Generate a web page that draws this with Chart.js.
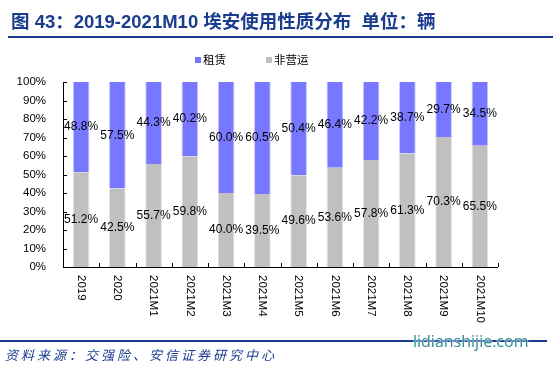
<!DOCTYPE html>
<html>
<head>
<meta charset="utf-8">
<script src="https://cdn.jsdelivr.net/npm/chart.js@4.4.0/dist/chart.umd.min.js"></script>
<style>
  body { margin: 0; width: 553px; height: 376px; background: #fff; position: relative; overflow: hidden; font-family: Arial, "Liberation Sans", sans-serif; }
  #wrap { position: absolute; left: 0; top: 0; width: 553px; height: 376px; }
  .title { position: absolute; left: 11px; top: 7px; font: bold 18.5px Arial, "Noto Sans CJK SC", sans-serif; color: #1a3c8e; white-space: nowrap; }
  .topline { position: absolute; left: 8px; right: 0; top: 36px; height: 2px; background: #1a3c8e; }
  .legend { position: absolute; top: 51px; font: 11.5px "Noto Sans CJK SC", sans-serif; color: #000; white-space: nowrap; }
  .legend span.box { display: inline-block; width: 6px; height: 6px; margin-right: 2px; vertical-align: 1px; }
  .botline { position: absolute; left: 0; right: 6px; top: 340px; height: 1.5px; background: #1a3c8e; }
  .source { position: absolute; left: 5px; top: 345px; font: italic 13px "Noto Sans CJK SC", sans-serif; letter-spacing: 3px; color: #1a3c8e; white-space: nowrap; }
  .mark { position: absolute; left: 413px; top: 330px; font: 16px "Open Sans", Arial, sans-serif; color: #2a8c9a; white-space: nowrap; text-shadow: 0 0 2px #fff, 0 0 2px #fff; }
</style>
</head>
<body>
<div id="wrap"><canvas id="chart" width="553" height="376"></canvas></div>
<div class="title">图 43：2019-2021M10 埃安使用性质分布&nbsp; 单位：辆</div>
<div class="topline"></div>
<div class="legend" style="left:195px"><span class="box" style="background:#7777ff"></span>租赁</div>
<div class="legend" style="left:266px"><span class="box" style="background:#c0c0c0"></span>非营运</div>
<div class="botline"></div>
<div class="source">资料来源：交强险、安信证券研究中心</div>
<div class="mark">lidianshijie.com</div>
<script>
const categories = ['2019', '2020', '2021M1', '2021M2', '2021M3', '2021M4', '2021M5', '2021M6', '2021M7', '2021M8', '2021M9', '2021M10'];
const nonOperating = [51.2, 42.5, 55.7, 59.8, 40.0, 39.5, 49.6, 53.6, 57.8, 61.3, 70.3, 65.5];
const rental = [48.8, 57.5, 44.3, 40.2, 60.0, 60.5, 50.4, 46.4, 42.2, 38.7, 29.7, 34.5];
const yTicks = [0, 10, 20, 30, 40, 50, 60, 70, 80, 90, 100];

// value labels in the middle of each segment
const valueLabels = {
    id: 'valueLabels',
    afterDatasetsDraw(chart) {
        const ctx = chart.ctx;
        ctx.save();
        ctx.font = '12px Arial';
        ctx.fillStyle = '#000';
        ctx.textAlign = 'center';
        ctx.textBaseline = 'middle';
        chart.data.datasets.forEach((ds, di) => {
            chart.getDatasetMeta(di).data.forEach((bar, i) => {
                const mid = (bar.y + bar.base) / 2;
                ctx.fillText(ds.data[i].toFixed(1) + '%', bar.x, mid);
            });
        });
        ctx.restore();
    }
};

// inward ticks and top-to-bottom category labels
const axisExtras = {
    id: 'axisExtras',
    afterDraw(chart) {
        const ctx = chart.ctx;
        const x = chart.scales.x, y = chart.scales.y;
        const area = chart.chartArea;
        ctx.save();
        ctx.strokeStyle = '#000';
        ctx.lineWidth = 1;
        yTicks.forEach(v => {
            const py = Math.round(y.getPixelForValue(v)) + 0.5;
            ctx.beginPath();
            ctx.moveTo(area.left, py);
            ctx.lineTo(area.left + 4, py);
            ctx.stroke();
        });
        const step = (area.right - area.left) / categories.length;
        for (let i = 1; i <= categories.length; i++) {
            const px = Math.round(area.left + step * i) + 0.5;
            ctx.beginPath();
            ctx.moveTo(px, area.bottom);
            ctx.lineTo(px, area.bottom - 4);
            ctx.stroke();
        }
        ctx.beginPath();
        ctx.moveTo(area.left, area.bottom + 0.5);
        ctx.lineTo(area.right, area.bottom + 0.5);
        ctx.stroke();
        ctx.font = '11.5px Arial';
        ctx.fillStyle = '#000';
        ctx.textAlign = 'left';
        ctx.textBaseline = 'middle';
        categories.forEach((c, i) => {
            const px = x.getPixelForValue(i);
            ctx.save();
            ctx.translate(px, area.bottom + 8);
            ctx.rotate(Math.PI / 2);
            ctx.fillText(c, 0, 0);
            ctx.restore();
        });
        ctx.restore();
    }
};

new Chart(document.getElementById('chart'), {
    type: 'bar',
    data: {
        labels: categories,
        datasets: [
            { label: '非营运', data: nonOperating, backgroundColor: '#c0c0c0', borderColor: '#e4e4e4', borderWidth: { left: 1, right: 1 }, borderSkipped: false, categoryPercentage: 1, barPercentage: 0.46 },
            { label: '租赁', data: rental, backgroundColor: '#7777ff', borderColor: '#c8c8ff', borderWidth: { left: 1, right: 1 }, borderSkipped: false, categoryPercentage: 1, barPercentage: 0.46 }
        ]
    },
    options: {
        responsive: false,
        animation: false,
        layout: { padding: { top: 82, right: 55, left: 0, bottom: 0 } },
        plugins: { legend: { display: false }, tooltip: { enabled: false } },
        scales: {
            x: {
                stacked: true,
                grid: { display: false },
                border: { display: false },
                ticks: { display: false },
                afterFit(scale) { scale.height = 109; }
            },
            y: {
                stacked: true,
                min: 0,
                max: 100,
                grid: { display: false },
                border: { display: true, color: '#000', width: 1 },
                afterBuildTicks(scale) { scale.ticks = yTicks.map(v => ({ value: v })); },
                ticks: {
                    padding: 9,
                    color: '#000',
                    font: { family: 'Arial', size: 11.5 },
                    callback: v => v + '%'
                },
                afterFit(scale) { scale.width = 63; }
            }
        }
    },
    plugins: [valueLabels, axisExtras]
});
</script>
</body>
</html>
